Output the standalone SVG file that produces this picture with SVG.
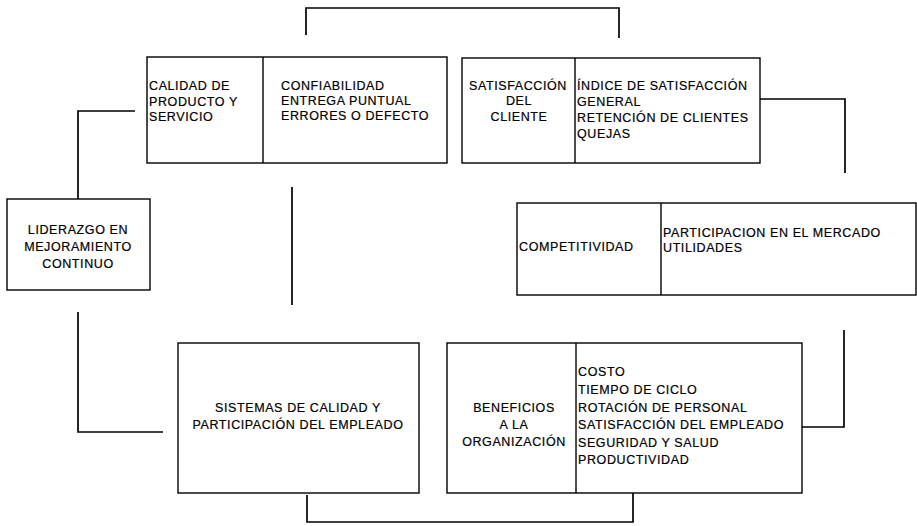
<svg xmlns="http://www.w3.org/2000/svg" width="917" height="526" viewBox="0 0 917 526">
<style>
.box{fill:#fff;stroke:#000;stroke-width:1.4}
.div{stroke:#000;stroke-width:1.4}
.con{fill:none;stroke:#000;stroke-width:1.7}
text{font-family:"Liberation Sans",Arial,sans-serif;font-size:12.5px;letter-spacing:0.6px;fill:#000;stroke:#000;stroke-width:0.2}
.c{text-anchor:middle}
</style>
<rect width="917" height="526" fill="#fff"/>
<g id="connectors">
<polyline class="con" points="306,35 306,8 619,8 619,38"/>
<polyline class="con" points="760,99 845,99 845,173"/>
<polyline class="con" points="844,330 844,427 802,427"/>
<polyline class="con" points="307,495 307,522 633,522 633,493"/>
<polyline class="con" points="78,312 78,432 163,432"/>
<polyline class="con" points="78,199 78,111 135,111"/>
<line class="con" x1="292" y1="187" x2="292" y2="305"/>
</g>
<g id="calidad">
<rect class="box" x="147" y="57" width="300" height="106"/>
<line class="div" x1="263" y1="57" x2="263" y2="163"/>
<text x="149" y="90">CALIDAD DE</text>
<text x="149" y="106">PRODUCTO Y</text>
<text x="149" y="121">SERVICIO</text>
<text x="281" y="90">CONFIABILIDAD</text>
<text x="281" y="105">ENTREGA PUNTUAL</text>
<text x="281" y="120">ERRORES O DEFECTO</text>
</g>
<g id="satisfaccion">
<rect class="box" x="462" y="58" width="298" height="105"/>
<line class="div" x1="575" y1="58" x2="575" y2="163"/>
<text class="c" x="518" y="90">SATISFACCIÓN</text>
<text class="c" x="519" y="105">DEL</text>
<text class="c" x="519" y="121">CLIENTE</text>
<text x="577" y="90">ÍNDICE DE SATISFACCIÓN</text>
<text x="577" y="106">GENERAL</text>
<text x="577" y="122">RETENCIÓN DE CLIENTES</text>
<text x="577" y="138">QUEJAS</text>
</g>
<g id="competitividad">
<rect class="box" x="517" y="203" width="399" height="92"/>
<line class="div" x1="661" y1="203" x2="661" y2="295"/>
<text x="519" y="251">COMPETITIVIDAD</text>
<text x="663" y="237">PARTICIPACION EN EL MERCADO</text>
<text x="663" y="252">UTILIDADES</text>
</g>
<g id="liderazgo">
<rect class="box" x="7" y="199" width="143" height="91"/>
<text class="c" x="78" y="234">LIDERAZGO EN</text>
<text class="c" x="78" y="251">MEJORAMIENTO</text>
<text class="c" x="78" y="268">CONTINUO</text>
</g>
<g id="sistemas">
<rect class="box" x="178" y="343" width="241" height="150"/>
<text class="c" x="298" y="412">SISTEMAS DE CALIDAD Y</text>
<text class="c" x="298" y="429">PARTICIPACIÓN DEL EMPLEADO</text>
</g>
<g id="beneficios">
<rect class="box" x="447" y="343" width="355" height="150"/>
<line class="div" x1="576" y1="343" x2="576" y2="493"/>
<text class="c" x="514" y="412">BENEFICIOS</text>
<text class="c" x="514" y="429">A LA</text>
<text class="c" x="514" y="446">ORGANIZACIÓN</text>
<text x="578" y="376">COSTO</text>
<text x="578" y="394">TIEMPO DE CICLO</text>
<text x="578" y="412">ROTACIÓN DE PERSONAL</text>
<text x="578" y="429">SATISFACCIÓN DEL EMPLEADO</text>
<text x="578" y="447">SEGURIDAD Y SALUD</text>
<text x="578" y="464">PRODUCTIVIDAD</text>
</g>
</svg>
